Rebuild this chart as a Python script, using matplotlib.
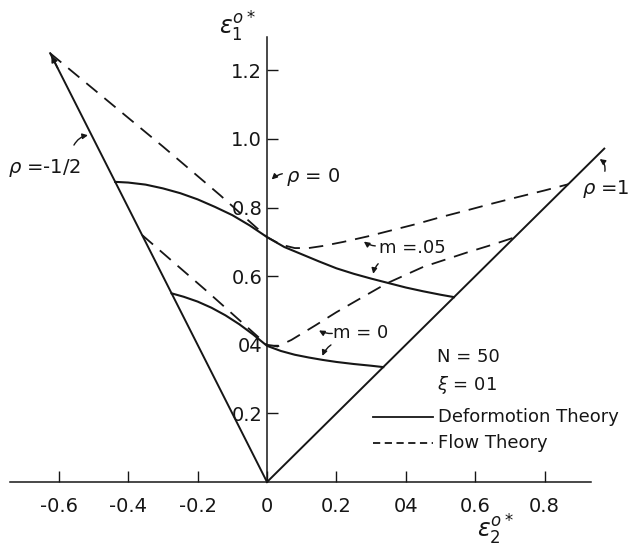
import matplotlib
matplotlib.use("Agg")
import matplotlib.pyplot as plt

# boundary lines (rho = -1/2 and rho = 1)
rho_half_x = [0.0, -0.625]
rho_half_y = [0.0, 1.25]
rho_one_x = [0.0, 0.972]
rho_one_y = [0.0, 0.972]

# deformation theory (solid)
def_m05_x = [-0.4375, -0.40, -0.35, -0.30, -0.25, -0.20, -0.15, -0.10, -0.05, 0.0,
             0.05, 0.10, 0.15, 0.20, 0.25, 0.30, 0.35, 0.40, 0.45, 0.50, 0.539]
def_m05_y = [0.875, 0.873, 0.867, 0.856, 0.842, 0.824, 0.802, 0.778, 0.748, 0.714,
             0.685, 0.664, 0.643, 0.623, 0.607, 0.593, 0.580, 0.567, 0.556, 0.546, 0.539]
def_m0_x = [-0.275, -0.24, -0.20, -0.16, -0.12, -0.08, -0.04, 0.0,
            0.04, 0.08, 0.12, 0.16, 0.20, 0.25, 0.30, 0.335]
def_m0_y = [0.550, 0.540, 0.526, 0.508, 0.486, 0.460, 0.430, 0.397,
            0.382, 0.371, 0.363, 0.356, 0.350, 0.344, 0.339, 0.335]

# flow theory (dashed)
flow_m05_x = [-0.625, -0.3, -0.135, 0.0, 0.04, 0.08, 0.12, 0.16, 0.22, 0.29, 0.36,
              0.43, 0.50, 0.58, 0.65, 0.72, 0.80, 0.868]
flow_m05_y = [1.25, 0.978, 0.836, 0.714, 0.692, 0.682, 0.682, 0.688, 0.700, 0.716, 0.734,
              0.752, 0.772, 0.793, 0.812, 0.830, 0.850, 0.868]
flow_m0_x = [-0.36, -0.174, 0.0, 0.03, 0.07, 0.14, 0.20, 0.26, 0.345, 0.45, 0.576, 0.65, 0.71]
flow_m0_y = [0.72, 0.557, 0.400, 0.395, 0.414, 0.457, 0.495, 0.530, 0.579, 0.627, 0.669, 0.692, 0.712]

xticks = [-0.6, -0.4, -0.2, 0.0, 0.2, 0.4, 0.6, 0.8]
xlabels = ["-0.6", "-0.4", "-0.2", "0", "0.2", "04", "0.6", "0.8"]
yticks = [0.2, 0.4, 0.6, 0.8, 1.0, 1.2]
ylabels = ["0.2", "04", "0.6", "0.8", "1.0", "1.2"]

ink = "#161616"

fig = plt.figure(figsize=(6.31, 5.48), dpi=100)
ax = fig.add_axes([0, 0, 1, 1])
ax.set_xlim(-0.7695, 1.049)
ax.set_ylim(-0.1924, 1.4052)

# axes through the origin
for s in ("top", "right"):
    ax.spines[s].set_visible(False)
ax.spines["left"].set_position(("data", 0))
ax.spines["bottom"].set_position(("data", 0))
ax.spines["left"].set_bounds(0, 1.297)
ax.spines["bottom"].set_bounds(-0.74, 0.934)
for s in ("left", "bottom"):
    ax.spines[s].set_linewidth(1.1)
    ax.spines[s].set_color(ink)

ax.set_xticks(xticks, xlabels)
ax.set_yticks(yticks, ylabels)
ax.tick_params(axis="x", direction="in", length=8, width=1.0, pad=11, labelsize=14, colors=ink)
ax.tick_params(axis="y", direction="in", length=8, width=1.0, pad=3.5, labelsize=14, colors=ink)

# region boundaries
ax.plot(rho_half_x, rho_half_y, color=ink, lw=1.4)
ax.plot(rho_one_x, rho_one_y, color=ink, lw=1.4)
ax.annotate("", xy=(rho_half_x[1], rho_half_y[1]), xytext=(-0.6, 1.2),
            arrowprops=dict(arrowstyle="-|>", color=ink, lw=1.2, mutation_scale=9))

# curves
ax.plot(def_m05_x, def_m05_y, color=ink, lw=1.5)
ax.plot(def_m0_x, def_m0_y, color=ink, lw=1.5)
ax.plot(flow_m05_x, flow_m05_y, color=ink, lw=1.3, dashes=(8, 5))
ax.plot(flow_m0_x, flow_m0_y, color=ink, lw=1.3, dashes=(8, 5))

arrow = dict(arrowstyle="-|>", color=ink, lw=1.0, mutation_scale=8)

# labels with arrows
ax.text(-0.643, 0.915, r"$\rho$ =-1/2", fontsize=14, ha="center", va="center", color=ink)
ax.annotate("", xy=(-0.508, 1.012), xytext=(-0.56, 0.975),
            arrowprops=dict(arrow, connectionstyle="arc3,rad=-0.3"))

ax.text(0.133, 0.889, r"$\rho$ = 0", fontsize=14, ha="center", va="center", color=ink)
ax.annotate("", xy=(0.008, 0.876), xytext=(0.052, 0.9),
            arrowprops=dict(arrow, connectionstyle="arc3,rad=0.2"))

ax.text(0.977, 0.855, r"$\rho$ =1", fontsize=14, ha="center", va="center", color=ink)
ax.annotate("", xy=(0.952, 0.946), xytext=(0.972, 0.898),
            arrowprops=dict(arrow, connectionstyle="arc3,rad=0.4"))

ax.text(0.418, 0.682, "m =.05", fontsize=13, ha="center", va="center", color=ink)
ax.annotate("", xy=(0.273, 0.706), xytext=(0.32, 0.688),
            arrowprops=dict(arrow, connectionstyle="arc3,rad=-0.2"))
ax.annotate("", xy=(0.305, 0.599), xytext=(0.326, 0.642),
            arrowprops=dict(arrow, connectionstyle="arc3,rad=0.2"))

ax.text(0.27, 0.434, "m = 0", fontsize=13, ha="center", va="center", color=ink)
ax.annotate("", xy=(0.143, 0.446), xytext=(0.196, 0.434),
            arrowprops=dict(arrow, connectionstyle="arc3,rad=-0.2"))
ax.annotate("", xy=(0.157, 0.36), xytext=(0.191, 0.404),
            arrowprops=dict(arrow, connectionstyle="arc3,rad=0.2"))

# parameters and legend
ax.text(0.49, 0.365, "N = 50", fontsize=13, ha="left", va="center", color=ink)
ax.text(0.49, 0.283, r"$\xi$ = 01", fontsize=13, ha="left", va="center", color=ink)
ax.plot([0.591, 0.686], [0.239, 0.239], transform=ax.transAxes, color=ink, lw=1.3)
ax.plot([0.591, 0.686], [0.191, 0.191], transform=ax.transAxes, color=ink, lw=1.3, dashes=(4, 2.5))
ax.text(0.694, 0.239, "Deformotion Theory", transform=ax.transAxes, fontsize=13,
        ha="left", va="center", color=ink)
ax.text(0.694, 0.191, "Flow Theory", transform=ax.transAxes, fontsize=13,
        ha="left", va="center", color=ink)

# axis titles
ax.text(-0.086, 1.327, r"$\varepsilon_1^{o*}$", fontsize=17, ha="center", va="center", color=ink)
ax.text(0.657, -0.14, r"$\varepsilon_2^{o*}$", fontsize=17, ha="center", va="center", color=ink)

fig.savefig("out.png", dpi=100)
